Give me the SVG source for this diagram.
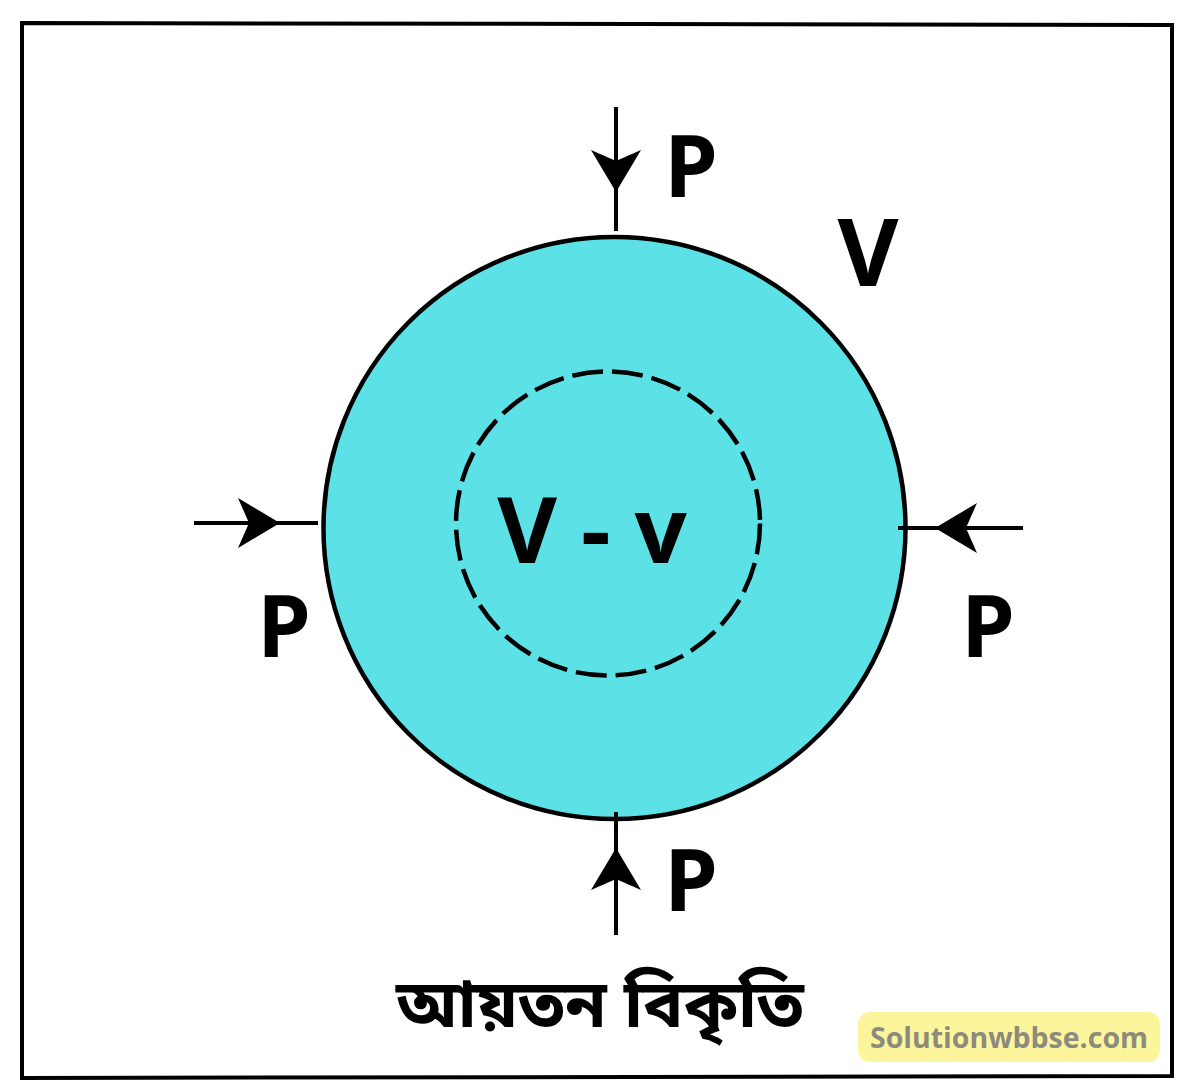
<svg xmlns="http://www.w3.org/2000/svg" width="1200" height="1082" viewBox="0 0 1200 1082">
<style>
.lbl{font-family:"Open Sans","Liberation Sans",sans-serif;font-weight:700;fill:#000}
.ln{stroke:#000;stroke-width:4;fill:none}
</style>
<defs>
<path id="ah" d="M0,0 L-42,-25 L-31,0 L-42,25 Z" fill="#000"/>
</defs>
<rect width="1200" height="1082" fill="#fff"/>
<polygon points="22,23 1172,25 1172,1076 22,1078" fill="none" stroke="#000" stroke-width="4"/>
<g id="body">
<circle cx="614.5" cy="528" r="291" fill="#5ce1e6" stroke="#000" stroke-width="4.5"/>
<text class="lbl" x="868" y="286" font-size="94" text-anchor="middle">V</text>
</g>
<g id="inner">
<circle cx="608" cy="523.5" r="152" fill="none" stroke="#000" stroke-width="4.5" stroke-dasharray="31 9"/>
<text class="lbl" x="592" y="563" font-size="92" text-anchor="middle">V - v</text>
</g>
<g id="connectors">
<line class="ln" x1="616" y1="107" x2="616" y2="231"/>
<use href="#ah" transform="translate(616,192) rotate(90)"/>
<line class="ln" x1="616" y1="812" x2="616" y2="935"/>
<use href="#ah" transform="translate(616,848) rotate(-90)"/>
<line class="ln" x1="194" y1="523" x2="318" y2="523"/>
<use href="#ah" transform="translate(280,523)"/>
<line class="ln" x1="898" y1="528" x2="1023" y2="528"/>
<use href="#ah" transform="translate(935,528) rotate(180)"/>
</g>
<g id="labels">
<text class="lbl" x="691" y="197" font-size="86" text-anchor="middle">P</text>
<text class="lbl" x="284" y="657" font-size="86" text-anchor="middle">P</text>
<text class="lbl" x="988" y="657" font-size="86" text-anchor="middle">P</text>
<text class="lbl" x="691" y="911" font-size="86" text-anchor="middle">P</text>
</g>
<g id="title">
<text x="600" y="1027" font-family="'Noto Sans Bengali','Noto Sans','Lohit Bengali','FreeSans',sans-serif" font-weight="700" font-size="67" text-anchor="middle" fill="#000">আয়তন বিকৃতি</text>
</g>
<g id="watermark">
<rect x="858" y="1012" width="302" height="50" rx="12" fill="#fdf59b"/>
<text x="1009" y="1048" font-family="'Open Sans','Liberation Sans',sans-serif" font-weight="700" font-size="28.5" text-anchor="middle" fill="#8b8b7e">Solutionwbbse.com</text>
</g>
</svg>
